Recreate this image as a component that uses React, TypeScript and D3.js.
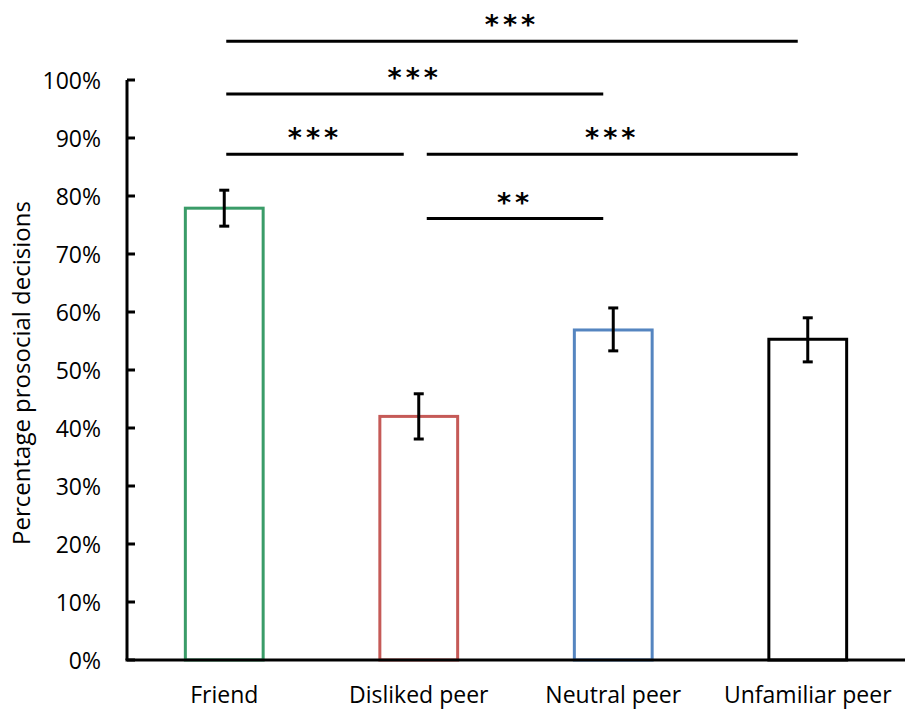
import React from "react";
import * as d3 from "d3";

const categories = ["Friend", "Disliked peer", "Neutral peer", "Unfamiliar peer"];
const means = [0.779, 0.42, 0.569, 0.553];
const errLow = [0.748, 0.381, 0.533, 0.514];
const errHigh = [0.81, 0.459, 0.607, 0.59];
const barColors = ["#3A9C68", "#C55A57", "#5585C0", "#000000"];
const yTicks = [0, 0.1, 0.2, 0.3, 0.4, 0.5, 0.6, 0.7, 0.8, 0.9, 1.0];
const compFrom = ["Friend", "Friend", "Friend", "Disliked peer", "Disliked peer"];
const compTo = ["Unfamiliar peer", "Neutral peer", "Disliked peer", "Unfamiliar peer", "Neutral peer"];
const compLabel = ["***", "***", "***", "***", "**"];
const compLevel = [1.067, 0.976, 0.872, 0.872, 0.761];

const W = 907;
const H = 720;
const FONT = "'Open Sans', 'Noto Sans', sans-serif";

export default function App() {
  const x = d3.scaleBand<string>().domain(categories).range([127, 905]).paddingInner(0.6).paddingOuter(0.3);
  const y = d3.scaleLinear().domain([0, 1]).range([660, 80]);
  const bw = x.bandwidth();
  const cx = (c: string) => (x(c) as number) + bw / 2;

  const comps = compFrom.map((f, i) => {
    const t = compTo[i];
    const lvl = compLevel[i];
    const sharedEnd = compFrom.some((ff, j) => j !== i && compLevel[j] === lvl && ff === t);
    const x1 = cx(f) + (f === categories[0] ? 2 : 8);
    const x2 = cx(t) - (sharedEnd ? 15 : 10);
    return { x1, x2, yy: y(lvl), label: compLabel[i] };
  });

  return (
    <svg width={W} height={H} style={{ position: "absolute", left: 0, top: 0, background: "#fff" }}>
      {categories.map((c, i) => (
        <rect
          key={c}
          x={x(c)}
          y={y(means[i])}
          width={bw}
          height={y(0) - y(means[i])}
          fill="none"
          stroke={barColors[i]}
          strokeWidth={3}
        />
      ))}
      {categories.map((c, i) => (
        <g key={"e" + c} stroke="#000" strokeWidth={3}>
          <line x1={cx(c)} x2={cx(c)} y1={y(errLow[i])} y2={y(errHigh[i])} />
          <line x1={cx(c) - 5} x2={cx(c) + 5} y1={y(errLow[i])} y2={y(errLow[i])} />
          <line x1={cx(c) - 5} x2={cx(c) + 5} y1={y(errHigh[i])} y2={y(errHigh[i])} />
        </g>
      ))}
      <line x1={127} x2={127} y1={y(1)} y2={y(0)} stroke="#000" strokeWidth={3} />
      <line x1={125.5} x2={905} y1={y(0)} y2={y(0)} stroke="#000" strokeWidth={3} />
      {yTicks.map((t) => (
        <g key={t}>
          <line x1={127} x2={135} y1={y(t)} y2={y(t)} stroke="#000" strokeWidth={3} />
          <text
            x={101}
            y={y(t)}
            textAnchor="end"
            dominantBaseline="central"
            fontFamily={FONT}
            fontSize={23}
            fill="#000"
          >
            {d3.format(".0%")(t)}
          </text>
        </g>
      ))}
      {categories.map((c) => (
        <text
          key={"l" + c}
          x={cx(c)}
          y={694}
          textAnchor="middle"
          dominantBaseline="central"
          fontFamily={FONT}
          fontSize={23}
          fill="#000"
        >
          {c}
        </text>
      ))}
      <text
        transform={`translate(20, 373) rotate(-90)`}
        textAnchor="middle"
        dominantBaseline="central"
        fontFamily={FONT}
        fontSize={24}
        fill="#000"
      >
        Percentage prosocial decisions
      </text>
      {comps.map((cm, i) => (
        <g key={"s" + i}>
          <line x1={cm.x1} x2={cm.x2} y1={cm.yy} y2={cm.yy} stroke="#000" strokeWidth={3} />
          <text
            x={(cm.x1 + cm.x2) / 2}
            y={cm.yy - 7}
            textAnchor="middle"
            fontFamily="'DejaVu Sans', sans-serif"
            fontWeight="bold"
            fontSize={27}
            letterSpacing={4}
            fill="#000"
          >
            {cm.label}
          </text>
        </g>
      ))}
    </svg>
  );
}
